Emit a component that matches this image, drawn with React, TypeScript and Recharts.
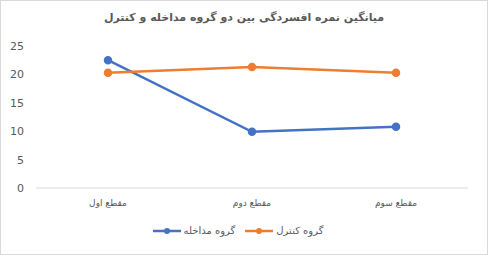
import React from "react";
import { LineChart, Line, XAxis, YAxis, ReferenceLine, Legend } from "recharts";

const categories = ["مقطع اول", "مقطع دوم", "مقطع سوم"];
const intervention = [22.5, 9.9, 10.8];
const control = [20.3, 21.3, 20.3];
const yTicks = [0, 5, 10, 15, 20, 25];

const data = categories.map((c, i) => ({ name: c, a: intervention[i], b: control[i] }));

const FONT = "'DejaVu Sans', 'Liberation Sans', sans-serif";

const LegendContent = () => (
  <div style={{ display: "flex", justifyContent: "center", alignItems: "center", fontFamily: FONT, fontSize: 10, color: "#595959", paddingLeft: 8 }}>
    <svg width={29} height={8} style={{ marginRight: 2 }}>
      <line x1={0} y1={4} x2={28} y2={4} stroke="#4472C4" strokeWidth={2.5} />
      <circle cx={14} cy={4} r={3} fill="#4472C4" />
    </svg>
    <span style={{ direction: "rtl", marginRight: 10 }}>گروه مداخله</span>
    <svg width={29} height={8} style={{ marginRight: 2 }}>
      <line x1={0} y1={4} x2={28} y2={4} stroke="#ED7D31" strokeWidth={2.5} />
      <circle cx={14} cy={4} r={3} fill="#ED7D31" />
    </svg>
    <span style={{ direction: "rtl" }}>گروه کنترل</span>
  </div>
);

export default function App() {
  return (
    <div style={{ position: "absolute", left: 0, top: 0, width: 488, height: 255, background: "#fff" }}>
      <div style={{ position: "absolute", left: 0, top: 0, width: 486, height: 253, border: "1px solid #D9D9D9" }} />
      <div style={{ position: "absolute", left: 0, top: 11, width: 488, textAlign: "center", fontFamily: FONT, fontSize: 11, fontWeight: "bold", color: "#595959", direction: "rtl" }}>
        میانگین نمره افسردگی بین دو گروه مداخله و کنترل
      </div>
      <LineChart width={488} height={255} data={data} margin={{ top: 46, right: 20, left: 0, bottom: 5 }} style={{ position: "absolute", left: 0, top: 0 }}>
        <XAxis dataKey="name" axisLine={false} tickLine={false} tickSize={0} tickMargin={12} height={37}
          padding={{ left: 72, right: 72 }}
          tick={{ fontFamily: FONT, fontSize: 9, fill: "#595959" }} />
        <YAxis domain={[0, 25]} ticks={yTicks} axisLine={false} tickLine={false} tickSize={0} tickMargin={12} width={36}
          tick={{ fontFamily: FONT, fontSize: 11, fill: "#595959" }} />
        <ReferenceLine y={0} stroke="#D9D9D9" strokeWidth={1} />
        <Legend verticalAlign="bottom" height={25} content={<LegendContent />} />
        <Line dataKey="a" stroke="#4472C4" strokeWidth={2.5} dot={{ r: 3, fill: "#4472C4", stroke: "#4472C4" }} isAnimationActive={false} />
        <Line dataKey="b" stroke="#ED7D31" strokeWidth={2.5} dot={{ r: 3, fill: "#ED7D31", stroke: "#ED7D31" }} isAnimationActive={false} />
      </LineChart>
    </div>
  );
}
